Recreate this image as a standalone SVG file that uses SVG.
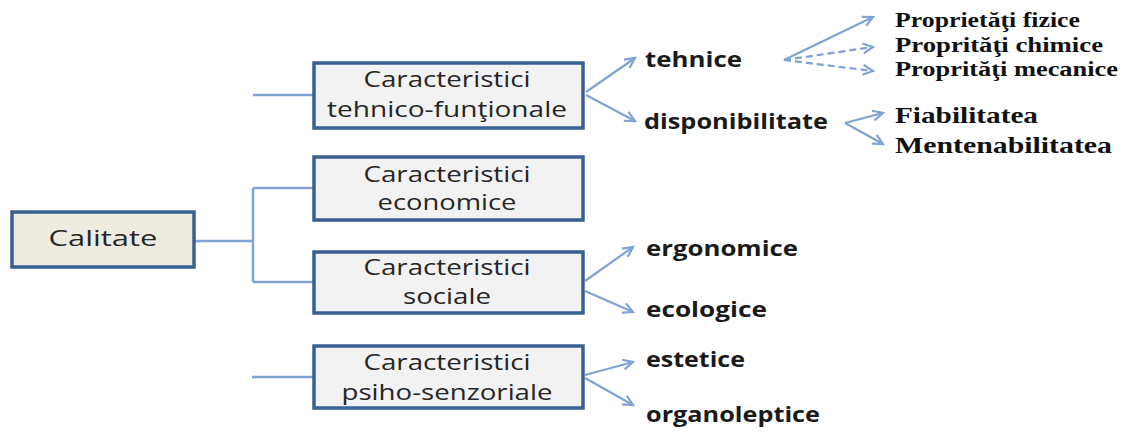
<svg xmlns="http://www.w3.org/2000/svg" width="1125" height="432" viewBox="0 0 1125 432">
<defs>
<marker id="arr" markerUnits="userSpaceOnUse" markerWidth="14" markerHeight="14" refX="11" refY="6" orient="auto" viewBox="0 0 14 12">
<path d="M1,1 L11,6 L1,11" fill="none" stroke="#7fa3d3" stroke-width="2.2"/>
</marker>
</defs>
<style>
.box{fill:#f2f2f2;stroke:#3a5f93;stroke-width:3.5}
.root{fill:#eeece1;stroke:#3a5f93;stroke-width:3.5}
.bt{font-family:"Open Sans","Liberation Sans",sans-serif;font-size:21px;fill:#262626;text-anchor:middle}
.lbl{font-family:"Open Sans","Liberation Sans",sans-serif;font-size:21px;font-weight:bold;fill:#1a1a1a}
.ser{font-family:"Liberation Serif","Times New Roman",serif;font-weight:bold;fill:#111}
.c{fill:none;stroke:#7fa3d3;stroke-width:2.5}
.a{fill:none;stroke:#7fa3d3;stroke-width:2.2;marker-end:url(#arr)}
.d{stroke-dasharray:7,4}
</style>
<g id="connectors">
<path class="c" d="M194,241 H253 M253,188 V282 M253,188 H313 M253,282 H313"/>
<path class="c" d="M253,95 H313"/>
<path class="c" d="M252,377 H313"/>
<line class="a" x1="586" y1="92" x2="635" y2="58"/>
<line class="a" x1="586" y1="95" x2="635" y2="121"/>
<line class="a" x1="784" y1="60" x2="873" y2="17"/>
<line class="a d" x1="784" y1="60" x2="873" y2="47"/>
<line class="a d" x1="784" y1="60" x2="873" y2="71"/>
<line class="a" x1="845" y1="123" x2="883" y2="113"/>
<line class="a" x1="845" y1="123" x2="883" y2="144"/>
<line class="a" x1="585" y1="281" x2="633" y2="247"/>
<line class="a" x1="585" y1="291" x2="633" y2="312"/>
<line class="a" x1="585" y1="375" x2="633" y2="362"/>
<line class="a" x1="585" y1="378" x2="633" y2="405"/>
</g>
<g id="calitate">
<rect class="root" x="12" y="212" width="182" height="55"/>
<text class="bt" x="103" y="246" font-size="22" textLength="109" lengthAdjust="spacingAndGlyphs">Calitate</text>
</g>
<g id="tehnico">
<rect class="box" x="314" y="63" width="269" height="65"/>
<text class="bt" x="447" y="87" textLength="167" lengthAdjust="spacingAndGlyphs">Caracteristici</text>
<text class="bt" x="447" y="117" textLength="240" lengthAdjust="spacingAndGlyphs">tehnico-funţionale</text>
</g>
<g id="economice">
<rect class="box" x="314" y="157" width="269" height="63"/>
<text class="bt" x="447" y="182" textLength="167" lengthAdjust="spacingAndGlyphs">Caracteristici</text>
<text class="bt" x="447" y="210" textLength="139" lengthAdjust="spacingAndGlyphs">economice</text>
</g>
<g id="sociale">
<rect class="box" x="314" y="252" width="269" height="61"/>
<text class="bt" x="447" y="275" textLength="167" lengthAdjust="spacingAndGlyphs">Caracteristici</text>
<text class="bt" x="447" y="304" textLength="88" lengthAdjust="spacingAndGlyphs">sociale</text>
</g>
<g id="psiho">
<rect class="box" x="314" y="346" width="269" height="62"/>
<text class="bt" x="447" y="370" textLength="167" lengthAdjust="spacingAndGlyphs">Caracteristici</text>
<text class="bt" x="447" y="400" textLength="211" lengthAdjust="spacingAndGlyphs">psiho-senzoriale</text>
</g>
<g id="tehnice"><text class="lbl" x="645" y="67" textLength="97" lengthAdjust="spacingAndGlyphs">tehnice</text></g>
<g id="disponibilitate"><text class="lbl" x="644" y="129" textLength="184" lengthAdjust="spacingAndGlyphs">disponibilitate</text></g>
<g id="ergonomice"><text class="lbl" x="646" y="256" textLength="152" lengthAdjust="spacingAndGlyphs">ergonomice</text></g>
<g id="ecologice"><text class="lbl" x="646" y="317" textLength="121" lengthAdjust="spacingAndGlyphs">ecologice</text></g>
<g id="estetice"><text class="lbl" x="646" y="367" textLength="99" lengthAdjust="spacingAndGlyphs">estetice</text></g>
<g id="organoleptice"><text class="lbl" x="646" y="422" textLength="174" lengthAdjust="spacingAndGlyphs">organoleptice</text></g>
<g id="fizice"><text class="ser" x="895" y="27" font-size="20" textLength="185" lengthAdjust="spacingAndGlyphs">Proprietăţi fizice</text></g>
<g id="chimice"><text class="ser" x="895" y="52" font-size="20" textLength="208" lengthAdjust="spacingAndGlyphs">Proprităţi chimice</text></g>
<g id="mecanice"><text class="ser" x="895" y="76" font-size="20" textLength="223" lengthAdjust="spacingAndGlyphs">Proprităţi mecanice</text></g>
<g id="fiabilitatea"><text class="ser" x="895" y="123" font-size="24" textLength="143" lengthAdjust="spacingAndGlyphs">Fiabilitatea</text></g>
<g id="mentenabilitatea"><text class="ser" x="895" y="153" font-size="24" textLength="217" lengthAdjust="spacingAndGlyphs">Mentenabilitatea</text></g>
</svg>
